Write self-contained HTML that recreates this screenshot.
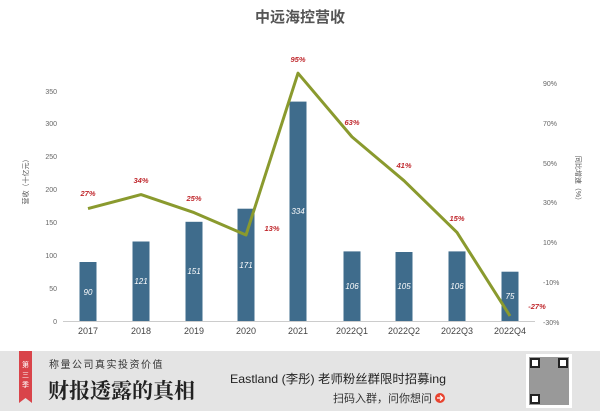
<!DOCTYPE html>
<html><head><meta charset="utf-8"><style>
body{margin:0;width:600px;height:411px;background:#fff;overflow:hidden;font-family:"Liberation Sans","Noto Sans CJK SC",sans-serif;}
</style></head><body>
<svg width="600" height="411" xmlns="http://www.w3.org/2000/svg" style="position:absolute;left:0;top:0">
<text x="300" y="22" text-anchor="middle" font-size="15" font-weight="bold" fill="#555" font-family="Liberation Sans,Noto Sans CJK SC,sans-serif">中远海控营收</text>
<g font-size="7" fill="#666" text-anchor="end">
<text x="57" y="324">0</text><text x="57" y="291">50</text><text x="57" y="258">100</text><text x="57" y="225">150</text><text x="57" y="192">200</text><text x="57" y="159">250</text><text x="57" y="126">300</text><text x="57" y="94">350</text>
</g>
<g font-size="7" fill="#666" text-anchor="start">
<text x="543" y="86">90%</text><text x="543" y="126">70%</text><text x="543" y="166">50%</text><text x="543" y="205">30%</text><text x="543" y="245">10%</text><text x="543" y="285">-10%</text><text x="543" y="325">-30%</text>
</g>
<text transform="translate(28,180) rotate(-90)" font-size="7" fill="#555" text-anchor="middle">营收（十亿元）</text>
<text transform="translate(576,180) rotate(90)" font-size="7" fill="#555" text-anchor="middle">同比增速（%）</text>
<line x1="63" y1="321.5" x2="535" y2="321.5" stroke="#ccc"/>
<g fill="#3f6c8c">
<rect x="79.5" y="262" width="17" height="59"/>
<rect x="132.5" y="241.5" width="17" height="79.5"/>
<rect x="185.5" y="221.8" width="17" height="99.2"/>
<rect x="237.5" y="208.7" width="17" height="112.3"/>
<rect x="289.5" y="101.6" width="17" height="219.4"/>
<rect x="343.5" y="251.4" width="17" height="69.6"/>
<rect x="395.5" y="252" width="17" height="69"/>
<rect x="448.5" y="251.4" width="17" height="69.6"/>
<rect x="501.5" y="271.7" width="17" height="49.3"/>
</g>
<g font-size="8" fill="#fff" font-style="italic" text-anchor="middle">
<text x="88" y="295">90</text><text x="141" y="284">121</text><text x="194" y="274">151</text><text x="246" y="268">171</text><text x="298" y="214">334</text><text x="352" y="289">106</text><text x="404" y="289">105</text><text x="457" y="289">106</text><text x="510" y="299">75</text>
</g>
<polyline points="88,208.6 141,194.6 194,212.6 246,235 298,73.2 352,136.9 404,180.7 457,232.4 510,316" fill="none" stroke="#8a9a2e" stroke-width="3" stroke-linejoin="round"/>
<g font-size="7.5" fill="#c0282d" font-style="italic" font-weight="bold" text-anchor="middle">
<text x="88" y="196">27%</text><text x="141" y="183">34%</text><text x="194" y="201">25%</text><text x="272" y="231">13%</text><text x="298" y="62">95%</text><text x="352" y="125">63%</text><text x="404" y="168">41%</text><text x="457" y="221">15%</text><text x="537" y="309">-27%</text>
</g>
<g font-size="9" fill="#444" text-anchor="middle">
<text x="88" y="334">2017</text><text x="141" y="334">2018</text><text x="194" y="334">2019</text><text x="246" y="334">2020</text><text x="298" y="334">2021</text><text x="352" y="334">2022Q1</text><text x="404" y="334">2022Q2</text><text x="457" y="334">2022Q3</text><text x="510" y="334">2022Q4</text>
</g>
<rect x="0" y="351" width="600" height="60" fill="#e4e4e4"/>
<path d="M19,351 H32 V403 L25.5,398 L19,403 Z" fill="#d9444a"/>
<text x="25.5" y="367" font-size="7" fill="#fff" text-anchor="middle">第</text>
<text x="25.5" y="377" font-size="7" fill="#fff" text-anchor="middle">三</text>
<text x="25.5" y="387" font-size="7" fill="#fff" text-anchor="middle">季</text>
<text x="49" y="368" font-size="10" fill="#333" letter-spacing="1.5">称量公司真实投资价值</text>
<text x="48" y="398" font-size="21" font-weight="bold" fill="#222" font-family="Noto Serif CJK SC,serif">财报透露的真相</text>
<text x="446" y="383" font-size="12" fill="#222" text-anchor="end" textLength="216" lengthAdjust="spacingAndGlyphs">Eastland (李彤) 老师粉丝群限时招募ing</text>
<text x="432" y="402" font-size="11" fill="#333" text-anchor="end">扫码入群，问你想问</text>
<circle cx="440" cy="398" r="5" fill="#e8432f"/>
<path d="M437,398 H442 M440,395.5 L442.5,398 L440,400.5" stroke="#fff" stroke-width="1.3" fill="none"/>
<rect x="526" y="354" width="46" height="54" fill="#fff"/>
<rect x="529" y="357" width="40" height="48" fill="#999"/>
<rect x="530" y="358" width="10" height="10" fill="#222"/><rect x="558" y="358" width="10" height="10" fill="#222"/><rect x="530" y="394" width="10" height="10" fill="#222"/>
<rect x="532" y="360" width="6" height="6" fill="#fff"/><rect x="560" y="360" width="6" height="6" fill="#fff"/><rect x="532" y="396" width="6" height="6" fill="#fff"/>
</svg>
</body></html>
